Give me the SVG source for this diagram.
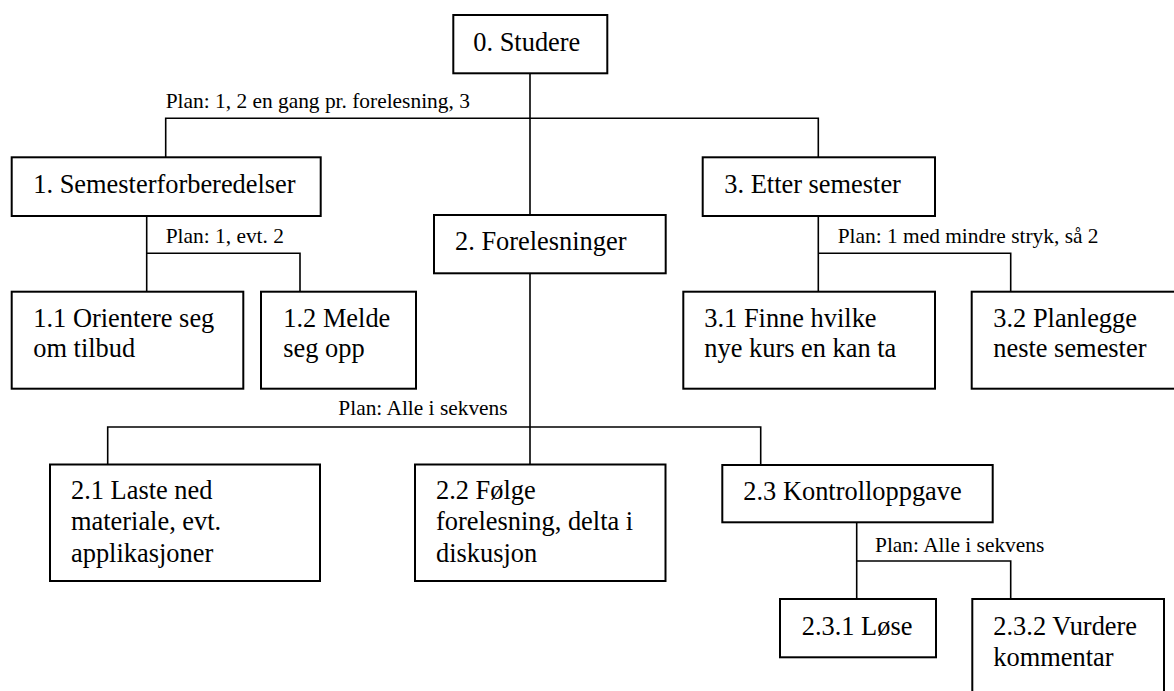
<svg xmlns="http://www.w3.org/2000/svg" width="1174" height="691" viewBox="0 0 1174 691">
  <style>
    .box { fill: #fff; stroke: #000; stroke-width: 2; }
    .wire { fill: none; stroke: #000; stroke-width: 1.6; }
    .t { font-size: 26.4px; fill: #000; }
    .plan { font-size: 21.4px; fill: #000; }
  </style>
  <rect width="1174" height="691" fill="#fff"/>

  <!-- tree connectors -->
  <g id="connectors" class="wire">
    <!-- 0 -> 1, 2, 3 -->
    <path d="M530,73.3 V215"/>
    <path d="M165.7,157.3 V118.3 H818.3 V157.3"/>
    <!-- 1 -> 1.1, 1.2 -->
    <path d="M146.7,216 V291.7"/>
    <path d="M146.7,253.3 H300 V291.7"/>
    <!-- 3 -> 3.1, 3.2 -->
    <path d="M818.3,216 V291.7"/>
    <path d="M818.3,253.3 H1010.7 V291.7"/>
    <!-- 2 -> 2.1, 2.2, 2.3 -->
    <path d="M530,273.3 V465"/>
    <path d="M107.7,464.5 V427 H760.7 V465"/>
    <!-- 2.3 -> 2.3.1, 2.3.2 -->
    <path d="M856.7,522.3 V599"/>
    <path d="M856.7,561 H1010.7 V599"/>
  </g>

  <g font-family="'Liberation Serif', Tinos, 'Times New Roman', Times, 'DejaVu Serif', serif">
    <!-- plan annotations -->
    <g id="plans">
      <text class="plan" x="165.7" y="108.3">Plan: 1, 2 en gang pr. forelesning, 3</text>
      <text class="plan" x="165.7" y="243.3">Plan: 1, evt. 2</text>
      <text class="plan" x="837.7" y="243.3">Plan: 1 med mindre stryk, så 2</text>
      <text class="plan" x="338.3" y="415">Plan: Alle i sekvens</text>
      <text class="plan" x="875" y="551.7">Plan: Alle i sekvens</text>
    </g>

    <g id="n0">
      <rect class="box" x="453.3" y="15" width="154" height="58.3"/>
      <text class="t" x="473.3" y="51">0. Studere</text>
    </g>
    <g id="n1">
      <rect class="box" x="11.7" y="157.3" width="309" height="58.7"/>
      <text class="t" x="33.3" y="192.7">1. Semesterforberedelser</text>
    </g>
    <g id="n2">
      <rect class="box" x="434" y="215" width="231.7" height="58.3"/>
      <text class="t" x="455" y="250">2. Forelesninger</text>
    </g>
    <g id="n3">
      <rect class="box" x="702.7" y="157.3" width="232.3" height="58.7"/>
      <text class="t" x="724.3" y="193.3">3. Etter semester</text>
    </g>
    <g id="n1-1">
      <rect class="box" x="11.7" y="291.7" width="231.6" height="97"/>
      <text class="t" x="33.3" y="326.7">1.1 Orientere seg</text>
      <text class="t" x="33.3" y="357.3">om tilbud</text>
    </g>
    <g id="n1-2">
      <rect class="box" x="261" y="291.7" width="155" height="97"/>
      <text class="t" x="283.3" y="326.7">1.2 Melde</text>
      <text class="t" x="283.3" y="357.3">seg opp</text>
    </g>
    <g id="n3-1">
      <rect class="box" x="683.3" y="291.7" width="251.7" height="97"/>
      <text class="t" x="704.3" y="326.7">3.1 Finne hvilke</text>
      <text class="t" x="704.3" y="357.3">nye kurs en kan ta</text>
    </g>
    <g id="n3-2">
      <rect class="box" x="971.7" y="291.7" width="215" height="97"/>
      <text class="t" x="993.3" y="326.7">3.2 Planlegge</text>
      <text class="t" x="993.3" y="357.3">neste semester</text>
    </g>
    <g id="n2-1">
      <rect class="box" x="50" y="464.5" width="270" height="116.5"/>
      <text class="t" x="71" y="499">2.1 Laste ned</text>
      <text class="t" x="71" y="530.3">materiale, evt.</text>
      <text class="t" x="71" y="561.6">applikasjoner</text>
    </g>
    <g id="n2-2">
      <rect class="box" x="415" y="464.5" width="250.5" height="116.5"/>
      <text class="t" x="436" y="499">2.2 Følge</text>
      <text class="t" x="436" y="530.3">forelesning, delta i</text>
      <text class="t" x="436" y="561.6">diskusjon</text>
    </g>
    <g id="n2-3">
      <rect class="box" x="722.3" y="465" width="270.4" height="57.3"/>
      <text class="t" x="743.3" y="500">2.3 Kontrolloppgave</text>
    </g>
    <g id="n2-3-1">
      <rect class="box" x="780" y="599" width="156" height="58.3"/>
      <text class="t" x="801.7" y="635">2.3.1 Løse</text>
    </g>
    <g id="n2-3-2">
      <rect class="box" x="972.3" y="599" width="191.7" height="110"/>
      <text class="t" x="993.3" y="635">2.3.2 Vurdere</text>
      <text class="t" x="993.3" y="665.5">kommentar</text>
    </g>
  </g>
</svg>
